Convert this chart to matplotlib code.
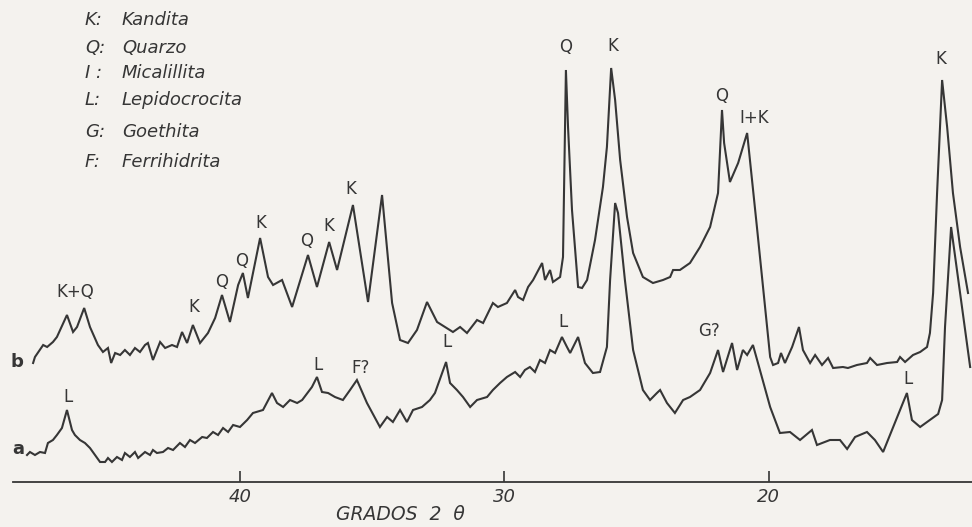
import matplotlib
matplotlib.use("Agg")
import matplotlib.pyplot as plt

# ---- data (2-theta in degrees, relative intensity) ----
b_two_theta = [47.81, 47.74, 47.43, 47.28, 47.06, 46.91, 46.53, 46.30, 46.15, 45.88,
               45.66, 45.36, 45.17, 44.98, 44.86, 44.71, 44.52, 44.34, 44.15, 43.96,
               43.77, 43.58, 43.47, 43.28, 43.01, 42.82, 42.56, 42.37, 42.18, 41.99,
               41.77, 41.50, 41.20, 40.93, 40.67, 40.37, 40.06, 39.88, 39.69, 39.23,
               38.93, 38.74, 38.40, 38.02, 37.42, 37.08, 36.62, 36.32, 35.72, 35.15,
               34.62, 34.24, 33.94, 33.64, 33.30, 32.92, 32.54, 31.94, 31.67, 31.41,
               31.03, 30.80, 30.43, 30.24, 29.90, 29.59, 29.48, 29.29, 29.10, 28.91,
               28.57, 28.46, 28.27, 28.16, 27.89, 27.78, 27.67, 27.59, 27.44, 27.21,
               27.06, 26.87, 26.57, 26.27, 26.12, 25.96, 25.81, 25.62, 25.36, 25.13,
               24.76, 24.38, 24.00, 23.73, 23.62, 23.36, 22.98, 22.60, 22.22, 21.92,
               21.77, 21.69, 21.47, 21.16, 20.82, 20.45, 19.95, 19.84, 19.65, 19.54,
               19.39, 19.12, 18.86, 18.71, 18.44, 18.25, 17.99, 17.76, 17.57, 17.20,
               17.01, 16.67, 16.29, 16.17, 15.91, 15.53, 15.15, 15.04, 14.85, 14.55,
               14.28, 14.02, 13.91, 13.79, 13.64, 13.45, 13.26, 13.04, 12.77, 12.47]
b_intensity = [119, 125, 137, 135, 140, 145, 167, 150, 155, 174,
               155, 137, 130, 134, 119, 129, 127, 132, 127, 134,
               130, 137, 139, 122, 140, 134, 137, 135, 150, 139,
               157, 139, 149, 164, 187, 160, 197, 209, 184, 244,
               205, 197, 202, 175, 227, 195, 240, 212, 277, 180,
               287, 179, 142, 139, 152, 180, 160, 150, 155, 149,
               162, 159, 179, 175, 179, 192, 185, 182, 195, 202,
               219, 202, 212, 200, 205, 225, 412, 355, 272, 195,
               194, 202, 242, 295, 335, 414, 382, 322, 265, 229,
               205, 199, 202, 205, 212, 212, 219, 235, 255, 289,
               372, 339, 300, 319, 349, 255, 125, 117, 119, 129,
               119, 135, 155, 132, 119, 127, 117, 124, 114, 115,
               114, 117, 119, 124, 117, 119, 120, 125, 120, 127,
               130, 135, 149, 189, 289, 402, 355, 289, 235, 189]

a_two_theta = [48.04, 47.93, 47.74, 47.55, 47.36, 47.25, 47.06, 46.91, 46.72, 46.53,
               46.34, 46.23, 46.04, 45.85, 45.66, 45.47, 45.28, 45.09, 44.98, 44.83,
               44.64, 44.45, 44.34, 44.15, 43.96, 43.84, 43.58, 43.39, 43.28, 43.13,
               42.90, 42.71, 42.52, 42.26, 42.07, 41.88, 41.69, 41.42, 41.24, 41.01,
               40.82, 40.63, 40.44, 40.25, 39.99, 39.72, 39.50, 39.12, 38.78, 38.59,
               38.36, 38.10, 37.83, 37.64, 37.27, 37.08, 36.89, 36.66, 36.40, 36.10,
               35.83, 35.57, 35.19, 34.70, 34.43, 34.21, 33.94, 33.68, 33.45, 33.11,
               32.81, 32.62, 32.20, 32.05, 31.79, 31.56, 31.29, 31.03, 30.65, 30.43,
               30.16, 29.90, 29.59, 29.40, 29.22, 29.03, 28.84, 28.65, 28.46, 28.27,
               28.08, 27.82, 27.63, 27.51, 27.21, 26.95, 26.65, 26.38, 26.12, 26.00,
               25.81, 25.70, 25.44, 25.13, 24.76, 24.49, 24.23, 24.11, 23.85, 23.55,
               23.24, 22.98, 22.60, 22.22, 21.92, 21.73, 21.39, 21.20, 20.98, 20.82,
               20.60, 20.41, 19.95, 19.58, 19.20, 18.82, 18.37, 18.18, 17.69, 17.31,
               17.04, 16.74, 16.29, 15.99, 15.68, 15.04, 14.78, 14.59, 14.28, 14.02,
               13.60, 13.45, 13.34, 13.11, 12.39]
a_intensity = [27, 30, 27, 30, 29, 39, 42, 47, 54, 72,
               52, 47, 42, 39, 34, 27, 20, 20, 24, 20,
               25, 22, 29, 25, 30, 24, 30, 27, 32, 29,
               30, 34, 32, 39, 35, 42, 39, 45, 44, 50,
               47, 54, 50, 57, 55, 62, 69, 72, 89, 79,
               75, 82, 79, 82, 95, 105, 90, 89, 85, 82,
               92, 102, 79, 55, 65, 60, 72, 60, 72, 75,
               82, 89, 120, 99, 92, 85, 75, 82, 85, 92,
               99, 105, 110, 105, 112, 115, 110, 122, 119, 132,
               129, 145, 135, 129, 145, 119, 109, 110, 135, 202,
               279, 269, 202, 132, 92, 82, 89, 92, 79, 69,
               82, 85, 92, 109, 132, 110, 139, 112, 132, 127,
               137, 119, 75, 49, 50, 42, 52, 37, 42, 42,
               33, 45, 50, 42, 30, 72, 89, 62, 55, 60,
               68, 82, 155, 255, 115]

# peak annotations: (text, two-theta, intensity)
b_labels = [("K+Q", 46.22, 190), ("K", 41.73, 175), ("Q", 40.67, 200),
            ("Q", 39.91, 221), ("K", 39.19, 259), ("Q", 37.46, 241),
            ("K", 36.62, 256), ("K", 35.79, 293), ("Q", 27.67, 435),
            ("K", 25.89, 436), ("Q", 21.77, 386), ("I+K", 20.56, 364),
            ("K", 13.49, 423)]
a_labels = [("L", 46.49, 85), ("L", 37.04, 117), ("F?", 35.45, 114),
            ("L", 32.16, 140), ("L", 27.78, 160), ("G?", 22.26, 151),
            ("L", 14.74, 103)]

legend_keys = ["K:", "Q:", "I :", "L:", "G:", "F:"]
legend_names = ["Kandita", "Quarzo", "Micalillita", "Lepidocrocita",
                "Goethita", "Ferrihidrita"]

x_ticks = [40, 30, 20]
x_label = "GRADOS  2  θ"

# ---- drawing ----
W, H = 972, 527
paper = "#f4f2ee"
ink = "#363636"

fig = plt.figure(figsize=(W / 100, H / 100), dpi=100, facecolor=paper)
ax = fig.add_axes([13 / W, (H - 482) / H, 959 / W, 482 / H])
ax.set_facecolor(paper)
ax.patch.set_alpha(0)

ax.plot(b_two_theta, b_intensity, color=ink, lw=1.5, solid_joinstyle="miter")
ax.plot(a_two_theta, a_intensity, color=ink, lw=1.5, solid_joinstyle="miter")

ax.set_xlim(48.57, 12.32)
ax.set_ylim(0, 482)

for s in ["top", "left", "right"]:
    ax.spines[s].set_visible(False)
ax.spines["bottom"].set_color(ink)
ax.spines["bottom"].set_linewidth(1.3)
ax.set_yticks([])
ax.set_xticks(x_ticks)
ax.set_xticklabels([str(t) for t in x_ticks], fontstyle="italic",
                   fontsize=13, color=ink)
ax.tick_params(axis="x", direction="in", length=8, width=1.2, color=ink, pad=4)

for txt, x, y in b_labels + a_labels:
    ax.text(x, y, txt, ha="center", va="center", fontsize=12, color=ink,
            clip_on=False)

# curve names
fig.text(17 / W, 1 - 362 / H, "b", ha="center", va="center", fontsize=13,
         fontweight="bold", color=ink)
fig.text(18 / W, 1 - 449 / H, "a", ha="center", va="center", fontsize=13,
         fontweight="bold", color=ink)

# key
rows_y = [20, 48, 73, 100, 132, 162]
for key, name, yy in zip(legend_keys, legend_names, rows_y):
    fig.text(85 / W, 1 - yy / H, key, ha="left", va="center", fontsize=13,
             fontstyle="italic", color=ink)
    fig.text(122 / W, 1 - yy / H, name, ha="left", va="center", fontsize=13,
             fontstyle="italic", color=ink)

fig.text(400 / W, 1 - 515 / H, x_label, ha="center", va="center",
         fontsize=13.5, fontstyle="italic", color=ink)

fig.savefig("out.png", dpi=100, facecolor=paper)
